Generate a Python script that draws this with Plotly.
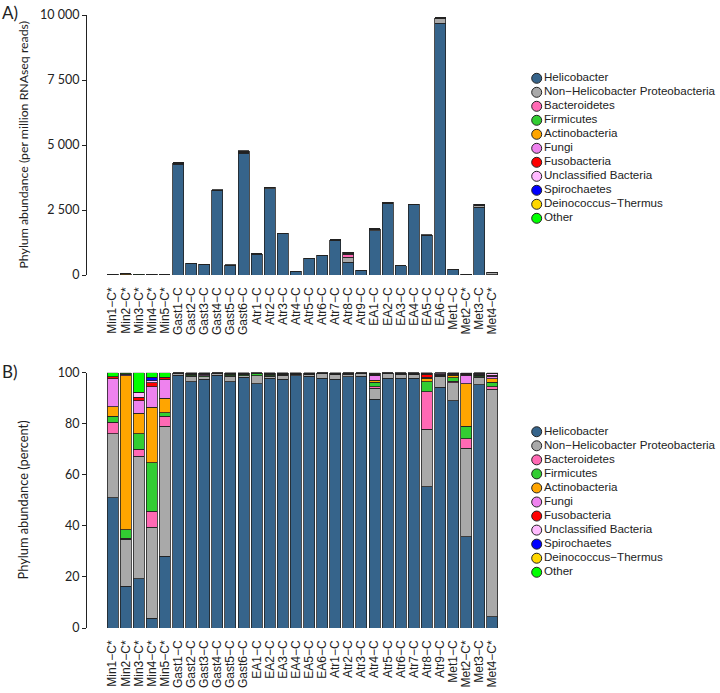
import plotly.graph_objects as go

W, H = 720, 693

PHYLA = [
    "Helicobacter",
    "Non−Helicobacter Proteobacteria",
    "Bacteroidetes",
    "Firmicutes",
    "Actinobacteria",
    "Fungi",
    "Fusobacteria",
    "Unclassified Bacteria",
    "Spirochaetes",
    "Deinococcus−Thermus",
    "Other",
]
COLORS = [
    "#36648B", "#A9A9A9", "#FF69B4", "#32CD32", "#FFA500", "#EE82EE",
    "#FF0000", "#FFBBFF", "#0000FF", "#FFD700", "#00FF00",
]

# panel A order and total abundance (per million RNAseq reads)
samples_a = [
    "Min1−C*", "Min2−C*", "Min3−C*", "Min4−C*", "Min5−C*",
    "Gast1−C", "Gast2−C", "Gast3−C", "Gast4−C", "Gast5−C", "Gast6−C",
    "Atr1−C", "Atr2−C", "Atr3−C", "Atr4−C", "Atr5−C", "Atr6−C", "Atr7−C", "Atr8−C", "Atr9−C",
    "EA1−C", "EA2−C", "EA3−C", "EA4−C", "EA5−C", "EA6−C",
    "Met1−C", "Met2−C*", "Met3−C", "Met4−C*",
]
totals_a = [
    20, 40, 20, 20, 15,
    4310, 460, 420, 3270, 385, 4770,
    820, 3370, 1615, 150, 650, 755, 1355, 870, 190,
    1780, 2800, 360, 2730, 1540, 9900,
    220, 25, 2730, 100,
]

# panel B order, composition in percent
samples_b = [
    "Min1−C*", "Min2−C*", "Min3−C*", "Min4−C*", "Min5−C*",
    "Gast1−C", "Gast2−C", "Gast3−C", "Gast4−C", "Gast5−C", "Gast6−C",
    "EA1−C", "EA2−C", "EA3−C", "EA4−C", "EA5−C", "EA6−C",
    "Atr1−C", "Atr2−C", "Atr3−C", "Atr4−C", "Atr5−C", "Atr6−C", "Atr7−C", "Atr8−C", "Atr9−C",
    "Met1−C", "Met2−C*", "Met3−C", "Met4−C*",
]
helicobacter = [51.0, 16.4, 19.2, 3.9, 28.1, 99.0, 96.5, 97.5, 99.1, 96.5, 98.2, 95.6, 97.8, 97.5, 98.8,
                98.7, 97.8, 97.5, 98.4, 98.7, 89.6, 97.8, 97.8, 97.8, 55.3, 94.3, 89.1, 35.8, 95.2, 4.5]
non_helicobacter = [25.0, 18.4, 48.1, 35.5, 50.9, 0.6, 2.2, 0.9, 0.5, 2.2, 0.6, 3.2, 0.9, 1.6, 0.5,
                    0.6, 1.7, 1.8, 1.0, 0.9, 4.3, 1.7, 1.6, 1.5, 22.6, 4.2, 6.9, 34.7, 3.0, 89.0]
bacteroidetes = [4.6, 0.3, 2.8, 6.4, 3.9, 0.05, 0.2, 0.1, 0.05, 0.1, 0.1, 0.1, 0.2, 0.1, 0.1,
                 0.1, 0.05, 0.1, 0.1, 0.05, 0.6, 0.05, 0.1, 0.1, 14.7, 0.2, 0.6, 3.7, 0.2, 1.0]
firmicutes = [2.4, 3.3, 5.9, 18.9, 1.5, 0.1, 0.3, 0.3, 0.1, 0.6, 0.3, 0.7, 0.3, 0.2, 0.15,
              0.15, 0.1, 0.15, 0.1, 0.1, 1.7, 0.1, 0.1, 0.15, 3.9, 0.2, 1.5, 4.8, 0.5, 1.7]
actinobacteria = [3.7, 60.4, 8.2, 21.8, 5.6, 0.05, 0.2, 0.1, 0.05, 0.1, 0.2, 0.1, 0.2, 0.2, 0.1,
                  0.1, 0.1, 0.1, 0.1, 0.05, 0.9, 0.1, 0.1, 0.1, 1.3, 0.1, 0.9, 16.6, 0.2, 1.5]
fungi = [10.9, 0.6, 4.8, 8.0, 7.4, 0.05, 0.2, 0.5, 0.05, 0.1, 0.2, 0.1, 0.2, 0.1, 0.1,
         0.1, 0.1, 0.1, 0.1, 0.05, 1.7, 0.1, 0.1, 0.1, 0.4, 0.4, 0.3, 3.4, 0.3, 1.0]
fusobacteria = [0.9, 0.2, 1.4, 1.6, 0.8, 0.05, 0.1, 0.2, 0.05, 0.1, 0.1, 0.05, 0.1, 0.1, 0.05,
                0.05, 0.05, 0.05, 0.05, 0.05, 0.3, 0.05, 0.05, 0.1, 1.2, 0.2, 0.2, 0.3, 0.2, 0.3]
unclassified = [0.0, 0.0, 1.9, 0.7, 0.0, 0.05, 0.1, 0.2, 0.05, 0.1, 0.1, 0.05, 0.1, 0.05, 0.05,
                0.05, 0.05, 0.05, 0.05, 0.05, 0.2, 0.05, 0.05, 0.05, 0.2, 0.3, 0.2, 0.3, 0.2, 0.5]
spirochaetes = [0.0, 0.0, 0.0, 1.4, 0.0, 0.02, 0.05, 0.05, 0.01, 0.05, 0.05, 0.02, 0.05, 0.02, 0.02,
                0.02, 0.01, 0.02, 0.02, 0.01, 0.1, 0.01, 0.02, 0.02, 0.1, 0.05, 0.1, 0.1, 0.1, 0.1]
deinococcus = [0.0, 0.0, 0.0, 0.0, 0.0, 0.01, 0.05, 0.05, 0.02, 0.05, 0.05, 0.03, 0.05, 0.03, 0.03,
               0.03, 0.01, 0.03, 0.03, 0.01, 0.4, 0.01, 0.03, 0.03, 0.2, 0.05, 0.1, 0.1, 0.05, 0.2]
other = [1.5, 0.4, 7.7, 1.8, 1.8, 0.02, 0.1, 0.1, 0.02, 0.1, 0.1, 0.05, 0.1, 0.1, 0.1,
         0.1, 0.03, 0.1, 0.05, 0.03, 0.2, 0.03, 0.05, 0.05, 0.1, 0.0, 0.1, 0.2, 0.05, 0.2]

composition = [helicobacter, non_helicobacter, bacteroidetes, firmicutes, actinobacteria, fungi,
               fusobacteria, unclassified, spirochaetes, deinococcus, other]

NUM_FONT = "Lato, 'Open Sans', sans-serif"
TXT_FONT = "'Liberation Sans', Arial, sans-serif"
INK = "#222222"


def px_x(p):
    return p / W


def px_y(p):
    return 1 - p / H


fig = go.Figure()

idx_b = {s: i for i, s in enumerate(samples_b)}
for name, color, pct in zip(PHYLA, COLORS, composition):
    vals_a = [t * pct[idx_b[s]] / 100 for s, t in zip(samples_a, totals_a)]
    fig.add_trace(go.Bar(
        x=samples_a, y=vals_a, name=name, marker_color=color,
        marker_line=dict(color=INK, width=0.8), xaxis="x", yaxis="y", showlegend=False,
    ))
    fig.add_trace(go.Bar(
        x=samples_b, y=pct, name=name, marker_color=color,
        marker_line=dict(color=INK, width=0.8), xaxis="x2", yaxis="y2", showlegend=False,
    ))

# legends drawn as marker + text rows
for xa, ya in (("x3", "y3"), ("x4", "y4")):
    fig.add_trace(go.Scatter(
        x=[0] * len(PHYLA), y=list(range(len(PHYLA))), mode="markers+text",
        text=PHYLA, textposition="middle right",
        textfont=dict(family=TXT_FONT, size=11.6, color=INK),
        marker=dict(size=10, color=COLORS, line=dict(color=INK, width=1)),
        xaxis=xa, yaxis=ya, showlegend=False, hoverinfo="skip", cliponaxis=False,
    ))

# bar pitch ~13.1 px, bars start at 106 px, axis line at 86 px
x_range = [-2.03, 29.5]
x_dom = [px_x(86), px_x(499)]


def x_axis(anchor, cats):
    return dict(
        anchor=anchor, type="category", range=x_range, domain=x_dom, showline=False,
        showgrid=False, zeroline=False, ticks="", tickangle=-90,
        tickmode="array", tickvals=cats, ticktext=cats, automargin=False,
        tickfont=dict(family=TXT_FONT, size=12, color=INK), ticklabelstandoff=9,
    )


ycommon = dict(
    anchor="free", position=x_dom[0], automargin=False,
    showline=True, linecolor=INK, linewidth=1, ticks="outside", ticklen=4,
    tickcolor=INK, showgrid=False, zeroline=False,
    tickfont=dict(family=NUM_FONT, size=12.5, color=INK),
)

legend_x = dict(domain=[0.73, 1.0], range=[-11.1, 183.3], visible=False, fixedrange=True)

fig.update_layout(
    width=W, height=H,
    margin=dict(l=0, r=0, t=0, b=0, pad=0, autoexpand=False),
    paper_bgcolor="white", plot_bgcolor="white",
    barmode="stack", bargap=0.16,
    xaxis=x_axis("y", samples_a),
    yaxis=dict(
        domain=[px_y(275), px_y(15)], range=[0, 10000],
        tickvals=[0, 2500, 5000, 7500, 10000],
        ticktext=["0", "2 500", "5 000", "7 500", "10 000"], **ycommon,
    ),
    xaxis2=x_axis("y2", samples_b),
    yaxis2=dict(
        domain=[px_y(628), px_y(372.7)], range=[0, 100],
        tickvals=[0, 20, 40, 60, 80, 100], **ycommon,
    ),
    xaxis3=dict(anchor="y3", **legend_x),
    yaxis3=dict(anchor="x3", domain=[px_y(225.3), px_y(71.3)], range=[10.5, -0.5],
                visible=False, fixedrange=True),
    xaxis4=dict(anchor="y4", **legend_x),
    yaxis4=dict(anchor="x4", domain=[px_y(579.3), px_y(424.7)], range=[10.5, -0.5],
                visible=False, fixedrange=True),
    annotations=[
        dict(text="A)", x=0, y=px_y(0), xref="paper", yref="paper", xanchor="left", yanchor="top",
             showarrow=False, font=dict(family=NUM_FONT, size=17, color=INK)),
        dict(text="B)", x=0, y=px_y(359), xref="paper", yref="paper", xanchor="left", yanchor="top",
             showarrow=False, font=dict(family=NUM_FONT, size=17, color=INK)),
        dict(text="Phylum abundance (per million RNAseq reads)", x=px_x(22.5), y=px_y(145),
             xref="paper", yref="paper", xanchor="center", yanchor="middle",
             textangle=-90, showarrow=False,
             font=dict(family=NUM_FONT, size=12.3, color=INK)),
        dict(text="Phylum abundance (percent)", x=px_x(22.5), y=px_y(500),
             xref="paper", yref="paper", xanchor="center", yanchor="middle",
             textangle=-90, showarrow=False,
             font=dict(family=NUM_FONT, size=12.8, color=INK)),
    ],
)

# drop the browser's default 8px body margin so the figure sits at the window's corner
fig.write_html(
    "out.html",
    config={"displayModeBar": False},
    post_script="document.body.style.margin = '0';",
)
